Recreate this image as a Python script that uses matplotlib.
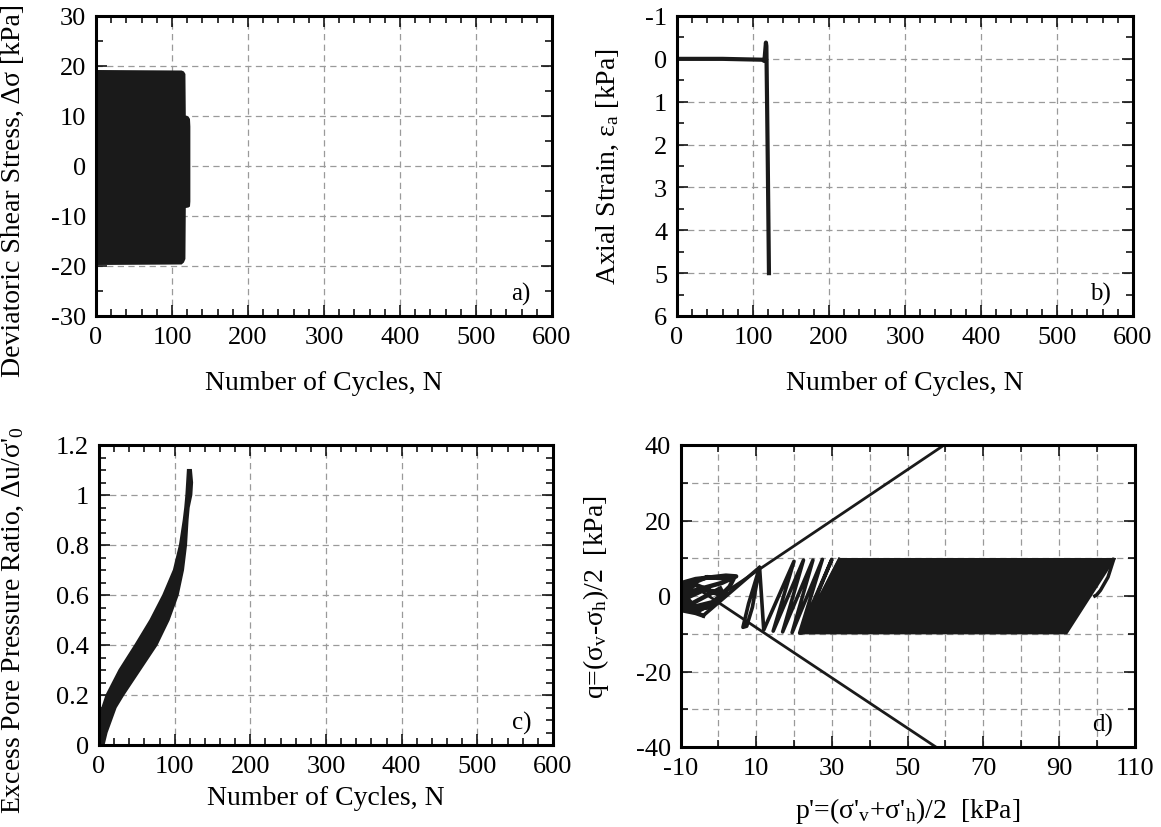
import numpy as np
import matplotlib
matplotlib.use('Agg')
import matplotlib.pyplot as plt
from matplotlib.ticker import MultipleLocator, FormatStrFormatter

plt.rcParams['font.family'] = ['Liberation Serif', 'DejaVu Serif']
plt.rcParams['mathtext.fontset'] = 'custom'
plt.rcParams['mathtext.rm'] = 'Liberation Serif'
plt.rcParams['mathtext.it'] = 'Liberation Serif:italic'
plt.rcParams['axes.unicode_minus'] = False
plt.rcParams['font.size'] = 20

# a) deviatoric stress envelope vs cycles
a_n = [0, 112, 115, 117, 117.5, 121, 123, 123.5]
a_upper = [19.3, 19.2, 19.0, 18.5, 10.2, 10.0, 9.5, 8.0]
a_lower = [-19.7, -19.6, -19.2, -18.5, -8.3, -8.2, -8.0, -7.0]

# b) axial strain
b_n = [0, 60, 112, 115, 117, 117.6, 118.5, 119.5, 121]
b_strain = [0.0, 0.0, 0.02, 0.05, -0.38, -0.3, 1.0, 2.5, 5.0]

# c) excess pore pressure ratio band (left / right edge of the band)
c_ratio = [0, 0.05, 0.1, 0.15, 0.2, 0.3, 0.4, 0.5, 0.6, 0.7, 0.8, 0.9, 0.95, 1.0, 1.05, 1.1]
c_left = [0, 0.5, 1.5, 4.5, 10, 27, 48, 68, 85, 99, 107, 112, 114, 115.5, 116.5, 117.5]
c_right = [6, 10, 16, 22, 32, 54, 76, 92, 104, 111, 115, 117, 118.5, 122, 123, 121.5]

# d) stress path: dense band, hook at the start, transitional loops, cluster near p'=0
d_band_p = [22, 92, 104.5, 32]
d_band_q = [-9.8, -9.8, 9.7, 9.7]
d_hook_p = [104.5, 103, 101, 100, 99.5]
d_hook_q = [9.7, 5, 1.5, 0.3, 0]
d_loop_p = [32, 22, 30, 21.5, 27.5, 19.5, 25, 17, 22.5, 14.5, 20, 12,
            10.9, 8, 6.5, 7.5, 9, 10.9, -4]
d_loop_q = [9.7, -9.8, 9.7, -9.8, 9.7, -9.7, 9.5, -9.5, 9.5, -9.3, 9.2, -9,
            7.6, -2, -8.3, -8, -3, 7.6, -5.2]
d_clus_p = [-4, -6, -9.5, -10, -8, 1, 4.7, 2, -6, -9.5, -10, -7, -1, 3, 4, -3, -9, -9.8, -5,
            0, 2, -4, -9.5, -8, -2, 1, -6, -9.8, -7, 0.5]
d_clus_q = [-5.2, -4.5, -3.8, -1, 1, 3.5, 5.2, 5.4, 4.5, 3.5, 0, -3, -1.5, 2.5, 4.5, 5, 2.5,
            -2.5, -3.8, -1, 1, 1.5, -1, -3.5, -3, 0, 3, 1, -2, 2]
fl_up_p = [-1, 59.7]
fl_up_q = [-0.9, 40]
fl_lo_p = [-5.4, 57.5]
fl_lo_q = [1.9, -40]

fig = plt.figure(figsize=(11.61, 8.28), dpi=100)
W, H = 1161, 828
ink = '#1a1a1a'


def box(l, t, r, b):
    return fig.add_axes([l / W, 1 - b / H, (r - l) / W, (b - t) / H])


def style(ax):
    for s in ax.spines.values():
        s.set_linewidth(2.2)
    ax.tick_params(which='both', direction='in', top=True, right=True, width=1.1, labelsize=19)
    ax.tick_params(which='major', length=8, pad=7)
    ax.tick_params(which='minor', length=5)
    ax.set_axisbelow(True)


grid_kw = dict(color='#9a9a9a', linestyle=(0, (5, 3.5)), linewidth=0.9)

ax1 = box(96, 17, 552, 317)
ax1.fill_between(a_n, a_lower, a_upper, color=ink, lw=0)
ax1.set_xlim(0, 600)
ax1.set_ylim(-30, 30)
ax1.xaxis.set_major_locator(MultipleLocator(100))
ax1.xaxis.set_minor_locator(MultipleLocator(20))
ax1.yaxis.set_major_locator(MultipleLocator(10))
ax1.yaxis.set_minor_locator(MultipleLocator(5))
ax1.grid(True, which='major', **grid_kw)
ax1.set_xlabel('Number of Cycles, N', labelpad=16)
ax1.set_ylabel('Deviatoric Shear Stress, Δσ [kPa]')
ax1.yaxis.set_label_coords(-0.154, 0.42)
ax1.text(0.952, 0.035, 'a)', transform=ax1.transAxes, ha='right', va='bottom', fontsize=18)
style(ax1)

ax2 = box(677, 17, 1133, 317)
ax2.plot(b_n, b_strain, color=ink, lw=3)
ax2.set_xlim(0, 600)
ax2.set_ylim(6, -1)
ax2.xaxis.set_major_locator(MultipleLocator(100))
ax2.xaxis.set_minor_locator(MultipleLocator(20))
ax2.yaxis.set_major_locator(MultipleLocator(1))
ax2.yaxis.set_minor_locator(MultipleLocator(0.5))
ax2.grid(True, which='major', **grid_kw)
ax2.set_xlabel('Number of Cycles, N', labelpad=16)
ax2.set_ylabel(r'Axial Strain, ε$_{\mathrm{a}}$ [kPa]')
ax2.yaxis.set_label_coords(-0.122, 0.5)
ax2.text(0.952, 0.035, 'b)', transform=ax2.transAxes, ha='right', va='bottom', fontsize=18)
style(ax2)

ax3 = box(99, 446, 553, 746)
ax3.fill(np.concatenate([c_left, c_right[::-1]]), np.concatenate([c_ratio, c_ratio[::-1]]),
         color=ink, lw=1.5, ec=ink)
ax3.set_xlim(0, 600)
ax3.set_ylim(0, 1.2)
ax3.xaxis.set_major_locator(MultipleLocator(100))
ax3.xaxis.set_minor_locator(MultipleLocator(20))
ax3.yaxis.set_major_locator(MultipleLocator(0.2))
ax3.yaxis.set_minor_locator(MultipleLocator(0.05))
ax3.yaxis.set_major_formatter(FormatStrFormatter('%g'))
ax3.grid(True, which='major', **grid_kw)
ax3.set_xlabel('Number of Cycles, N', labelpad=6)
ax3.set_ylabel(r"Excess Pore Pressure Ratio, Δu/σ'$_{\mathrm{0}}$")
ax3.yaxis.set_label_coords(-0.16, 0.42)
ax3.text(0.952, 0.035, 'c)', transform=ax3.transAxes, ha='right', va='bottom', fontsize=18)
style(ax3)

ax4 = box(680.5, 446, 1134.5, 748)
ax4.fill(d_band_p, d_band_q, color=ink, lw=2, ec=ink)
ax4.plot(d_loop_p, d_loop_q, color=ink, lw=2.6)
ax4.plot(d_clus_p, d_clus_q, color=ink, lw=3.2)
ax4.plot(d_hook_p, d_hook_q, color=ink, lw=2.5)
ax4.plot(fl_up_p, fl_up_q, color=ink, lw=2)
ax4.plot(fl_lo_p, fl_lo_q, color=ink, lw=2)
ax4.set_xlim(-10, 110)
ax4.set_ylim(-40, 40)
ax4.xaxis.set_major_locator(MultipleLocator(20, offset=-10))
ax4.xaxis.set_minor_locator(MultipleLocator(10))
ax4.yaxis.set_major_locator(MultipleLocator(20))
ax4.yaxis.set_minor_locator(MultipleLocator(10))
ax4.grid(True, which='both', **grid_kw)
ax4.set_xlabel(r"p'=(σ'$_{\mathrm{v}}$+σ'$_{\mathrm{h}}$)/2  [kPa]", labelpad=12)
ax4.set_ylabel(r'q=(σ$_{\mathrm{v}}$-σ$_{\mathrm{h}}$)/2  [kPa]')
ax4.yaxis.set_label_coords(-0.153, 0.5)
ax4.text(0.952, 0.035, 'd)', transform=ax4.transAxes, ha='right', va='bottom', fontsize=18)
style(ax4)

fig.savefig('out.png', dpi=100)
